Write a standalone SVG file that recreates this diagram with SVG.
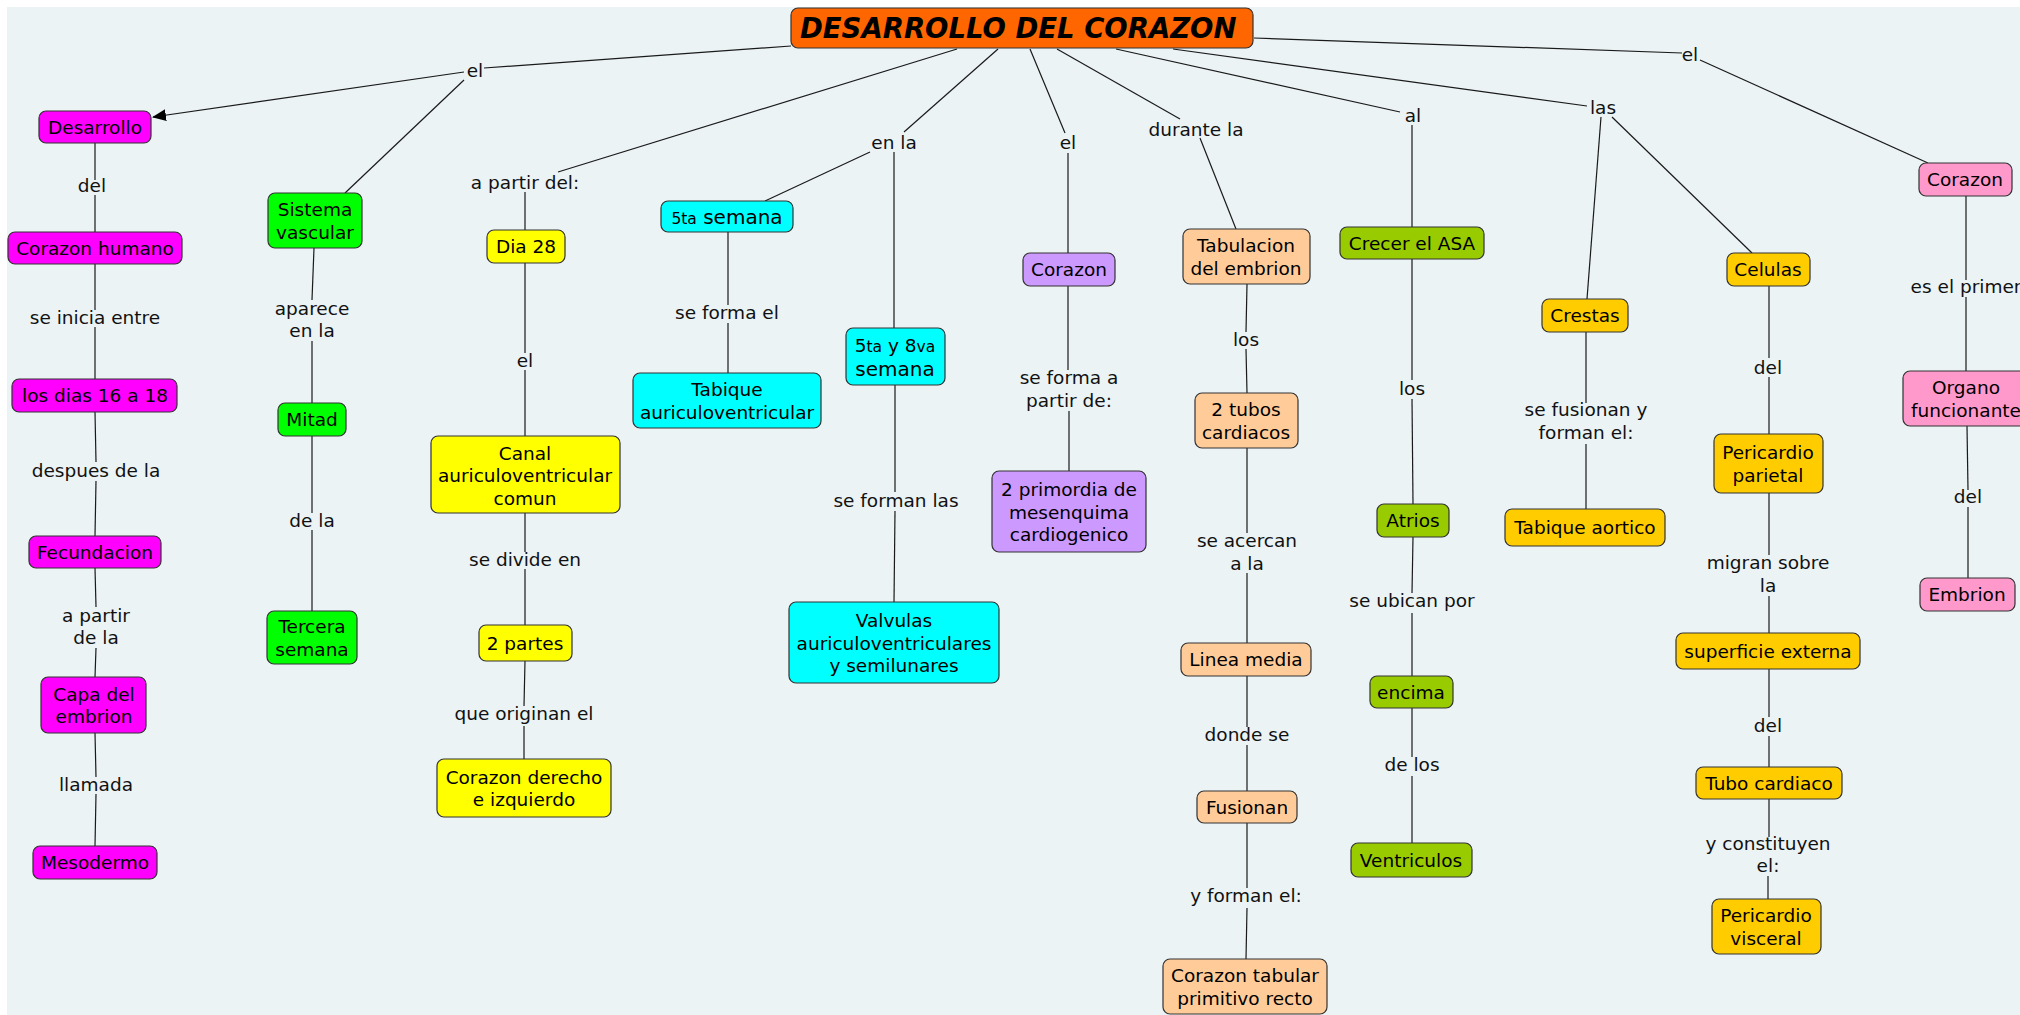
<svg xmlns="http://www.w3.org/2000/svg" width="2020" height="1015" viewBox="0 0 2020 1015">
<style>
text{font-family:"DejaVu Sans","Noto Sans",Verdana,sans-serif;font-size:18.5px;fill:#000;text-anchor:middle}
.lbl{font-size:18.5px;fill:#111}
.n rect{stroke:#333;stroke-width:1.2}
.mag{fill:#FF00FF}.grn{fill:#00FF00}.yel{fill:#FFFF00}.cya{fill:#00FFFF}.pur{fill:#CC99FF}.pea{fill:#FFCC99}.lim{fill:#99CC00}.gol{fill:#FFCC00}.pnk{fill:#FF99CC}
#conn line{stroke:#1a1a1a;stroke-width:1.2;fill:none}
.sm{font-size:15.5px}.bg{font-size:20px}
</style>
<defs>
<marker id="arr" markerWidth="14" markerHeight="12" refX="13" refY="6" orient="auto" markerUnits="userSpaceOnUse">
<path d="M0,0 L14,6 L0,12 Z" fill="#000"/>
</marker>
</defs>
<rect x="0" y="0" width="2020" height="1015" fill="#ffffff"/>
<rect x="7" y="7" width="2013" height="1008" fill="#EBF3F5"/>

<g id="conn">
<line x1="791" y1="46" x2="484" y2="68"/>
<line x1="464" y1="72" x2="153" y2="117" marker-end="url(#arr)"/>
<line x1="464" y1="80" x2="345" y2="193"/>
<line x1="957" y1="49" x2="558" y2="172"/>
<line x1="525" y1="192" x2="525" y2="230"/>
<line x1="998" y1="49" x2="904" y2="132"/>
<line x1="870" y1="152" x2="765" y2="201"/>
<line x1="894" y1="152" x2="894" y2="328"/>
<line x1="1030" y1="49" x2="1065" y2="133"/>
<line x1="1068" y1="153" x2="1068" y2="253"/>
<line x1="1057" y1="49" x2="1180" y2="119"/>
<line x1="1200" y1="138" x2="1236" y2="229"/>
<line x1="1116" y1="49" x2="1400" y2="112"/>
<line x1="1412" y1="125" x2="1412" y2="227"/>
<line x1="1173" y1="49" x2="1587" y2="106"/>
<line x1="1601" y1="117" x2="1587" y2="299"/>
<line x1="1612" y1="117" x2="1752" y2="253"/>
<line x1="1254" y1="38" x2="1682" y2="53"/>
<line x1="1700" y1="60" x2="1928" y2="163"/>

<line x1="95" y1="143" x2="95" y2="180"/>
<line x1="95" y1="195" x2="95" y2="232"/>
<line x1="95" y1="264" x2="95" y2="310"/>
<line x1="95" y1="327" x2="95" y2="379"/>
<line x1="95" y1="412" x2="96" y2="462"/>
<line x1="96" y1="481" x2="95" y2="536"/>
<line x1="95" y1="568" x2="96" y2="607"/>
<line x1="96" y1="648" x2="95" y2="677"/>
<line x1="95" y1="733" x2="96" y2="777"/>
<line x1="96" y1="794" x2="95" y2="846"/>

<line x1="314" y1="248" x2="312" y2="300"/>
<line x1="312" y1="341" x2="312" y2="403"/>
<line x1="312" y1="436" x2="312" y2="513"/>
<line x1="312" y1="530" x2="312" y2="611"/>

<line x1="525" y1="263" x2="525" y2="353"/>
<line x1="525" y1="370" x2="525" y2="436"/>
<line x1="525" y1="513" x2="525" y2="552"/>
<line x1="525" y1="569" x2="525" y2="625"/>
<line x1="525" y1="661" x2="524" y2="706"/>
<line x1="524" y1="726" x2="524" y2="759"/>

<line x1="728" y1="232" x2="728" y2="305"/>
<line x1="728" y1="323" x2="728" y2="373"/>

<line x1="895" y1="385" x2="895" y2="492"/>
<line x1="895" y1="511" x2="894" y2="602"/>

<line x1="1068" y1="286" x2="1068" y2="370"/>
<line x1="1069" y1="411" x2="1069" y2="471"/>

<line x1="1247" y1="284" x2="1246" y2="332"/>
<line x1="1246" y1="349" x2="1247" y2="393"/>
<line x1="1247" y1="448" x2="1247" y2="533"/>
<line x1="1247" y1="573" x2="1247" y2="643"/>
<line x1="1247" y1="676" x2="1247" y2="727"/>
<line x1="1247" y1="745" x2="1247" y2="791"/>
<line x1="1247" y1="823" x2="1247" y2="888"/>
<line x1="1247" y1="908" x2="1246" y2="959"/>

<line x1="1412" y1="259" x2="1412" y2="380"/>
<line x1="1412" y1="399" x2="1413" y2="504"/>
<line x1="1413" y1="537" x2="1412" y2="593"/>
<line x1="1412" y1="613" x2="1412" y2="676"/>
<line x1="1412" y1="708" x2="1412" y2="757"/>
<line x1="1412" y1="776" x2="1412" y2="843"/>

<line x1="1586" y1="332" x2="1586" y2="403"/>
<line x1="1586" y1="444" x2="1586" y2="509"/>

<line x1="1769" y1="286" x2="1769" y2="358"/>
<line x1="1769" y1="377" x2="1769" y2="434"/>
<line x1="1769" y1="493" x2="1769" y2="555"/>
<line x1="1769" y1="596" x2="1769" y2="633"/>
<line x1="1769" y1="669" x2="1769" y2="717"/>
<line x1="1769" y1="736" x2="1769" y2="767"/>
<line x1="1769" y1="799" x2="1769" y2="837"/>
<line x1="1768" y1="876" x2="1768" y2="899"/>

<line x1="1966" y1="196" x2="1966" y2="280"/>
<line x1="1966" y1="297" x2="1966" y2="371"/>
<line x1="1967" y1="426" x2="1968" y2="490"/>
<line x1="1968" y1="507" x2="1968" y2="578"/>
</g>

<g id="labels">
<text class="lbl" x="475" y="77">el</text>
<text class="lbl" x="92" y="192">del</text>
<text class="lbl" x="95" y="324">se inicia entre</text>
<text class="lbl" x="96" y="477">despues de la</text>
<text class="lbl" x="96" y="622">a partir</text>
<text class="lbl" x="96" y="644">de la</text>
<text class="lbl" x="96" y="791">llamada</text>
<text class="lbl" x="312" y="315">aparece</text>
<text class="lbl" x="312" y="337">en la</text>
<text class="lbl" x="312" y="527">de la</text>
<text class="lbl" x="525" y="189">a partir del:</text>
<text class="lbl" x="525" y="367">el</text>
<text class="lbl" x="525" y="566">se divide en</text>
<text class="lbl" x="524" y="720">que originan el</text>
<text class="lbl" x="894" y="149">en la</text>
<text class="lbl" x="727" y="319">se forma el</text>
<text class="lbl" x="896" y="507">se forman las</text>
<text class="lbl" x="1068" y="149">el</text>
<text class="lbl" x="1069" y="384">se forma a</text>
<text class="lbl" x="1069" y="407">partir de:</text>
<text class="lbl" x="1196" y="136">durante la</text>
<text class="lbl" x="1246" y="346">los</text>
<text class="lbl" x="1247" y="547">se acercan</text>
<text class="lbl" x="1247" y="570">a la</text>
<text class="lbl" x="1247" y="741">donde se</text>
<text class="lbl" x="1246" y="902">y forman el:</text>
<text class="lbl" x="1413" y="122">al</text>
<text class="lbl" x="1412" y="395">los</text>
<text class="lbl" x="1412" y="607">se ubican por</text>
<text class="lbl" x="1412" y="771">de los</text>
<text class="lbl" x="1603" y="114">las</text>
<text class="lbl" x="1586" y="416">se fusionan y</text>
<text class="lbl" x="1586" y="439">forman el:</text>
<text class="lbl" x="1768" y="374">del</text>
<text class="lbl" x="1768" y="569">migran sobre</text>
<text class="lbl" x="1768" y="592">la</text>
<text class="lbl" x="1768" y="732">del</text>
<text class="lbl" x="1768" y="850">y constituyen</text>
<text class="lbl" x="1768" y="872">el:</text>
<text class="lbl" x="1690" y="61">el</text>
<text class="lbl" x="1966" y="293">es el primer</text>
<text class="lbl" x="1968" y="503">del</text>
</g>

<g id="n-title" class="n"><rect x="791" y="8" width="462" height="40" rx="7" fill="#FF6600"/><text x="800" y="38" style="text-anchor:start;font-weight:bold;font-style:italic;font-size:27.5px">DESARROLLO DEL CORAZON </text></g>

<g id="n-desarrollo" class="n"><rect class="mag" x="39" y="111" width="112" height="32" rx="7"/><text x="95" y="134">Desarrollo</text></g>
<g id="n-corazon-humano" class="n"><rect class="mag" x="8" y="232" width="174" height="32" rx="7"/><text x="95" y="255">Corazon humano</text></g>
<g id="n-dias" class="n"><rect class="mag" x="12" y="379" width="165" height="33" rx="7"/><text x="95" y="402">los dias 16 a 18</text></g>
<g id="n-fecundacion" class="n"><rect class="mag" x="29" y="536" width="132" height="32" rx="7"/><text x="95" y="559">Fecundacion</text></g>
<g id="n-capa" class="n"><rect class="mag" x="41" y="677" width="105" height="56" rx="7"/><text x="94" y="701">Capa del</text><text x="94" y="723">embrion</text></g>
<g id="n-mesodermo" class="n"><rect class="mag" x="33" y="846" width="124" height="33" rx="7"/><text x="95" y="869">Mesodermo</text></g>

<g id="n-sistema" class="n"><rect class="grn" x="268" y="193" width="94" height="55" rx="7"/><text x="315" y="216">Sistema</text><text x="315" y="239">vascular</text></g>
<g id="n-mitad" class="n"><rect class="grn" x="278" y="403" width="68" height="33" rx="7"/><text x="312" y="426">Mitad</text></g>
<g id="n-tercera" class="n"><rect class="grn" x="267" y="611" width="90" height="53" rx="7"/><text x="312" y="633">Tercera</text><text x="312" y="656">semana</text></g>

<g id="n-dia28" class="n"><rect class="yel" x="487" y="230" width="78" height="33" rx="7"/><text x="526" y="253">Dia 28</text></g>
<g id="n-canal" class="n"><rect class="yel" x="431" y="436" width="189" height="77" rx="7"/><text x="525" y="460">Canal</text><text x="525" y="482">auriculoventricular</text><text x="525" y="505">comun</text></g>
<g id="n-2partes" class="n"><rect class="yel" x="479" y="625" width="93" height="36" rx="7"/><text x="525" y="650">2 partes</text></g>
<g id="n-corazon-der" class="n"><rect class="yel" x="437" y="759" width="174" height="58" rx="7"/><text x="524" y="784">Corazon derecho</text><text x="524" y="806">e izquierdo</text></g>

<g id="n-5ta" class="n"><rect class="cya" x="661" y="201" width="132" height="31" rx="7"/><text x="727" y="224"><tspan class="sm">5ta</tspan><tspan class="bg"> semana</tspan></text></g>
<g id="n-tabique-av" class="n"><rect class="cya" x="633" y="373" width="188" height="55" rx="7"/><text x="727" y="396">Tabique</text><text x="727" y="419">auriculoventricular</text></g>
<g id="n-5ta8va" class="n"><rect class="cya" x="846" y="328" width="99" height="57" rx="7"/><text x="895" y="352">5<tspan class="sm">ta</tspan> y 8<tspan class="sm">va</tspan></text><text x="895" y="376" class="bg">semana</text></g>
<g id="n-valvulas" class="n"><rect class="cya" x="789" y="602" width="210" height="81" rx="7"/><text x="894" y="627">Valvulas</text><text x="894" y="650">auriculoventriculares</text><text x="894" y="672">y semilunares</text></g>

<g id="n-corazon-pur" class="n"><rect class="pur" x="1023" y="253" width="92" height="33" rx="7"/><text x="1069" y="276">Corazon</text></g>
<g id="n-primordia" class="n"><rect class="pur" x="992" y="471" width="154" height="81" rx="7"/><text x="1069" y="496">2 primordia de</text><text x="1069" y="519">mesenquima</text><text x="1069" y="541">cardiogenico</text></g>

<g id="n-tabulacion" class="n"><rect class="pea" x="1183" y="229" width="127" height="55" rx="7"/><text x="1246" y="252">Tabulacion</text><text x="1246" y="275">del embrion</text></g>
<g id="n-2tubos" class="n"><rect class="pea" x="1195" y="393" width="103" height="55" rx="7"/><text x="1246" y="416">2 tubos</text><text x="1246" y="439">cardiacos</text></g>
<g id="n-linea" class="n"><rect class="pea" x="1181" y="643" width="130" height="33" rx="7"/><text x="1246" y="666">Linea media</text></g>
<g id="n-fusionan" class="n"><rect class="pea" x="1197" y="791" width="100" height="32" rx="7"/><text x="1247" y="814">Fusionan</text></g>
<g id="n-tabular" class="n"><rect class="pea" x="1163" y="959" width="164" height="55" rx="7"/><text x="1245" y="982">Corazon tabular</text><text x="1245" y="1005">primitivo recto</text></g>

<g id="n-crecer" class="n"><rect class="lim" x="1340" y="227" width="144" height="32" rx="7"/><text x="1412" y="250">Crecer el ASA</text></g>
<g id="n-atrios" class="n"><rect class="lim" x="1377" y="504" width="72" height="33" rx="7"/><text x="1413" y="527">Atrios</text></g>
<g id="n-encima" class="n"><rect class="lim" x="1370" y="676" width="83" height="32" rx="7"/><text x="1411" y="699">encima</text></g>
<g id="n-ventriculos" class="n"><rect class="lim" x="1351" y="843" width="121" height="34" rx="7"/><text x="1411" y="867">Ventriculos</text></g>

<g id="n-crestas" class="n"><rect class="gol" x="1542" y="299" width="86" height="33" rx="7"/><text x="1585" y="322">Crestas</text></g>
<g id="n-tabique-ao" class="n"><rect class="gol" x="1505" y="509" width="160" height="37" rx="7"/><text x="1585" y="534">Tabique aortico</text></g>
<g id="n-celulas" class="n"><rect class="gol" x="1727" y="253" width="83" height="33" rx="7"/><text x="1768" y="276">Celulas</text></g>
<g id="n-pericardio-par" class="n"><rect class="gol" x="1714" y="434" width="109" height="59" rx="7"/><text x="1768" y="459">Pericardio</text><text x="1768" y="482">parietal</text></g>
<g id="n-superficie" class="n"><rect class="gol" x="1676" y="633" width="184" height="36" rx="7"/><text x="1768" y="658">superficie externa</text></g>
<g id="n-tubo" class="n"><rect class="gol" x="1696" y="767" width="146" height="32" rx="7"/><text x="1769" y="790">Tubo cardiaco</text></g>
<g id="n-pericardio-vis" class="n"><rect class="gol" x="1712" y="899" width="109" height="55" rx="7"/><text x="1766" y="922">Pericardio</text><text x="1766" y="945">visceral</text></g>

<g id="n-corazon-pnk" class="n"><rect class="pnk" x="1919" y="163" width="93" height="33" rx="7"/><text x="1965" y="186">Corazon</text></g>
<g id="n-organo" class="n"><rect class="pnk" x="1903" y="371" width="127" height="55" rx="7"/><text x="1966" y="394">Organo</text><text x="1966" y="417">funcionante</text></g>
<g id="n-embrion" class="n"><rect class="pnk" x="1920" y="578" width="95" height="33" rx="7"/><text x="1967" y="601">Embrion</text></g>
</svg>
